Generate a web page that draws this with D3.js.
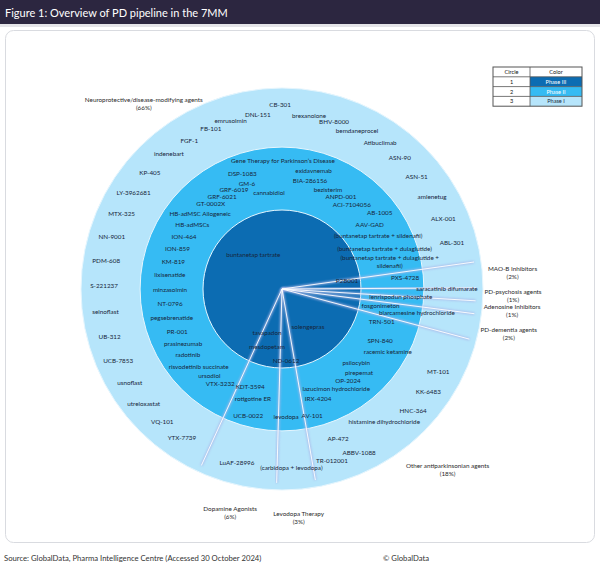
<!DOCTYPE html>
<html>
<head>
<meta charset="utf-8">
<script src="https://cdn.jsdelivr.net/npm/d3@7"></script>
<style>
  body { margin: 0; background: #fff; }
  text { font-family: Lato, "Liberation Sans", sans-serif; }
</style>
</head>
<body>
<script>
// categories (slices) and how many drugs sit in each one
const categories = ['MAO-B Inhibitors', 'PD-psychosis agents', 'Adenosine Inhibitors', 'PD-dementia agents',
  'Other antiparkinsonian agents', 'Levodopa Therapy', 'Dopamine Agonists', 'Neuroprotective/disease-modifying agents'];
const drugCounts = [2, 1, 1, 2, 17, 3, 6, 62];
const shareLabels = ['(2%)', '(1%)', '(1%)', '(2%)', '(18%)', '(3%)', '(6%)', '(66%)'];
const categoryLabelRadius = [115, 115, 115, 115, 122, 114, 114, 115]; // ring units

// phases = circles, outer radius in ring units (outer circle = 100)
const phases = ['Phase III', 'Phase II', 'Phase I'];
const phaseRadius = [39.3, 70.6, 100];

// drug labels per phase: name, angle (deg clockwise from 12 o'clock), distance (px on the picture)
const phase3Drugs = ['buntanetap tartrate', 'P2B001', 'solengepras', 'tavapadon', 'mesdopetam', 'ND-0612'];
const phase3Angles = [-39.6, 83, 145.6, 198.8, 194.5, 176.8];
const phase3Dist = [45, 65.5, 46, 46.5, 60, 72];

const phase2Drugs = ['(buntanetap tartrate + dulaglutide +\nsildenafil)', '(buntanetap tartrate + dulaglutide)',
  '(buntanetap tartrate + sildenafil)', 'AAV-GAD', 'AB-1005', 'ACI-7104056', 'ANPD-001', 'bezisterim',
  'BIA-286156', 'exidavnemab', 'Gene Therapy for Parkinson\u2019s Disease', 'cannabidiol', 'DSP-1083', 'GM-6',
  'GRF-6019', 'GRF-6021', 'GT-0002X', 'HB-adMSC Allogeneic', 'HB-adMSCs', 'ION-464', 'ION-859', 'KM-819',
  'lixisenatide', 'minzasolmin', 'NT-0796', 'pegsebrenatide', 'PR-001', 'prasinezumab', 'radotinib',
  'risvodetinib succinate', 'ursodiol', 'VTX-3232',
  'PXS-4728', 'lenrispodun phosphate', 'fosgonimeton', 'blarcamesine hydrochloride', 'TRN-501', 'SPN-840',
  'racemic ketamine', 'psilocybin', 'pirepemat', 'OP-2024', 'lazucimon hydrochloride', 'IRX-4204', 'AV-101',
  'levodopa', 'KDT-3594', 'rotigotine ER', 'UCB-0022'];
const phase2Angles = [76, 68.8, 61, 53.6, 52, 39.8, 32.7, 24.9, 14.5, 15, 0.4, -7.7, -19, -18.4, -25.9, -33, -40,
  -47.5, -54.6, -62, -69, -76, -83, -90.5, -97.6, -104.8, -112, -119, -125, -133, -140, -146.9,
  84.9, 93.8, 99.7, 100, 108.3, 117.9, 120.7, 135, 137.5, 144.3, 151.6, 161.9, 166.6, 178.2, 198, 194.8, 195];
const phase2Dist = [111, 110, 110, 109, 124, 109, 109, 109, 112, 122, 128, 97, 122, 111, 110, 110, 111, 111, 110,
  111, 112, 112, 113, 112, 113, 114, 113, 113, 115, 114, 113, 113,
  123.5, 119, 100, 137, 105, 111, 123, 105, 114, 113, 114, 116, 130, 128, 103, 114, 131];

const phase1Drugs = ['ABL-301', 'ALX-001', 'amlenetug', 'ASN-51', 'ASN-90', 'Atibuclimab', 'bemdaneprocel',
  'BHV-8000', 'brexanolone', 'CB-301', 'DNL-151', 'emrusolmin', 'FB-101', 'FGF-1', 'indenebart', 'KP-405',
  'LY-3962681', 'MTX-325', 'NN-9001', 'PDM-608', 'S-221237', 'selnoflast', 'UB-312', 'UCB-7853', 'usnoflast',
  'utreloxastat', 'VQ-101', 'YTX-7739',
  'saracatinib difumarate', 'MT-101', 'KK-6483', 'HNC-364', 'histamine dihydrochloride', 'AP-472', 'ABBV-1088',
  'TR-012001', '(carbidopa + levodopa)', 'LuAF-28996'];
const phase1Angles = [74.9, 66.5, 58.5, 50.3, 42, 33.9, 25.4, 17.3, 8.9, -0.6, -7.9, -17, -24, -32, -40, -48.7,
  -57, -65, -73, -81, -89, -97.4, -105.6, -113.7, -121.7, -129.8, -138, -146,
  90, 118, 125.2, 132.9, 142.5, 159.5, 154.8, 163.8, 177, 194.5];
const phase1Dist = [176, 176, 176, 175, 176, 176, 175, 175, 175, 184, 176, 176, 175, 175, 176, 176, 177, 177, 178,
  178, 178, 178, 179, 179, 179, 180, 179, 179,
  165, 177, 179, 179, 168, 160, 181, 179, 179, 180];

// legend table rows
const legendCircle = ['1', '2', '3'];

const width = 600;
const height = 564;
const cx = 282;
const cy = 289;
const outerR = 201;

const phaseColor = d3.scaleOrdinal().domain(phases).range(['#0c6cb2', '#36bbf3', '#b6e5fb']);
const rScale = d3.scaleLinear().domain([0, 100]).range([0, outerR]);
const aScale = d3.scaleLinear().domain([0, 360]).range([0, 2 * Math.PI]);
const polar = (deg, r) => [cx + r * Math.sin(aScale(deg)), cy - r * Math.cos(aScale(deg))];

const svg = d3.select('body').append('svg')
  .attr('width', width)
  .attr('height', height);

// title bar
svg.append('rect').attr('x', 0).attr('y', 0).attr('width', width).attr('height', 24).attr('fill', '#2c2640');
svg.append('rect').attr('x', 0).attr('y', 24).attr('width', width).attr('height', 3).attr('fill', '#e4e4e8');
svg.append('text').attr('x', 5).attr('y', 16.5).attr('fill', '#fff').attr('font-size', 11)
  .text('Figure 1: Overview of PD pipeline in the 7MM');

// panel
svg.append('rect').attr('x', 5.5).attr('y', 30.5).attr('width', 589).attr('height', 512).attr('rx', 8)
  .attr('fill', '#fff').attr('stroke', '#d9dbe0');

// glow filter for the divider lines
const defs = svg.append('defs');
const f = defs.append('filter').attr('id', 'glow').attr('x', '-20%').attr('y', '-20%').attr('width', '140%').attr('height', '140%');
f.append('feGaussianBlur').attr('stdDeviation', 1);

// circles, largest first
const g = svg.append('g');
g.selectAll('circle.phase')
  .data(phases.map((p, i) => ({ phase: p, r: phaseRadius[i] })).reverse())
  .enter()
  .append('circle')
  .attr('class', 'phase')
  .attr('cx', cx)
  .attr('cy', cy)
  .attr('r', d => rScale(d.r))
  .attr('fill', d => phaseColor(d.phase))
  .attr('stroke', '#e6f6fe')
  .attr('stroke-width', 1);

// slice boundaries from the pie
const pie = d3.pie().sort(null).value(d => d)
  .startAngle(aScale(82)).endAngle(aScale(82 + 360));
const arcs = pie(drugCounts);
const lineEnd = rScale(96.5);

g.selectAll('line.glow')
  .data(arcs)
  .enter()
  .append('line')
  .attr('x1', cx).attr('y1', cy)
  .attr('x2', d => cx + lineEnd * Math.sin(d.startAngle))
  .attr('y2', d => cy - lineEnd * Math.cos(d.startAngle))
  .attr('stroke', '#aab6e8')
  .attr('stroke-width', 2.6)
  .attr('opacity', 0.8)
  .attr('filter', 'url(#glow)');

g.selectAll('line.core')
  .data(arcs)
  .enter()
  .append('line')
  .attr('x1', cx).attr('y1', cy)
  .attr('x2', d => cx + lineEnd * Math.sin(d.startAngle))
  .attr('y2', d => cy - lineEnd * Math.cos(d.startAngle))
  .attr('stroke', '#ffffff')
  .attr('stroke-width', 0.9);

// drug labels
const drugRows = [
  [phase3Drugs, phase3Angles, phase3Dist],
  [phase2Drugs, phase2Angles, phase2Dist],
  [phase1Drugs, phase1Angles, phase1Dist]
].flatMap(([names, angles, dist]) => names.map((n, i) => ({ name: n, angle: angles[i], dist: dist[i] })));

const labels = g.selectAll('text.drug')
  .data(drugRows)
  .enter()
  .append('text')
  .attr('class', 'drug')
  .attr('font-size', 6.3)
  .attr('fill', '#17263a')
  .attr('text-anchor', 'middle')
  .attr('transform', d => `translate(${polar(d.angle, d.dist)})`);

labels.each(function (d) {
  const parts = d.name.split('\n');
  d3.select(this).selectAll('tspan')
    .data(parts)
    .enter()
    .append('tspan')
    .attr('x', 0)
    .attr('dy', (p, i) => i === 0 ? `${2.2 - (parts.length - 1) * 4}` : 8)
    .text(p => p);
});

// category labels at slice centroids
const catRows = arcs.map((a, i) => ({
  name: categories[i],
  share: shareLabels[i],
  angle: (a.startAngle + a.endAngle) / 2,
  r: rScale(categoryLabelRadius[i])
}));

const cats = svg.selectAll('text.cat')
  .data(catRows)
  .enter()
  .append('text')
  .attr('class', 'cat')
  .attr('font-size', 6.3)
  .attr('fill', '#2a2a2a')
  .attr('text-anchor', 'middle')
  .attr('transform', d => `translate(${cx + d.r * Math.sin(d.angle)},${cy - d.r * Math.cos(d.angle)})`);
cats.append('tspan').attr('x', 0).attr('dy', -1.5).text(d => d.name);
cats.append('tspan').attr('x', 0).attr('dy', 8).text(d => d.share);

// legend table
const lx = 493, ly = 67, c1 = 37, c2 = 52, rh = 9.8;
const legend = svg.append('g');
legend.append('rect').attr('x', lx).attr('y', ly).attr('width', c1 + c2).attr('height', rh).attr('fill', '#fff');
legend.selectAll('rect.sw')
  .data(phases)
  .enter()
  .append('rect')
  .attr('x', lx + c1).attr('y', (d, i) => ly + rh * (i + 1))
  .attr('width', c2).attr('height', rh)
  .attr('fill', d => phaseColor(d));
legend.append('rect').attr('x', lx).attr('y', ly).attr('width', c1 + c2).attr('height', rh * 4)
  .attr('fill', 'none').attr('stroke', '#555').attr('stroke-width', 1);
[1, 2, 3].forEach(i => legend.append('line')
  .attr('x1', lx).attr('x2', lx + c1 + c2).attr('y1', ly + rh * i).attr('y2', ly + rh * i)
  .attr('stroke', '#555').attr('stroke-width', 0.8));
legend.append('line').attr('x1', lx + c1).attr('x2', lx + c1).attr('y1', ly).attr('y2', ly + rh * 4)
  .attr('stroke', '#555').attr('stroke-width', 0.8);
legend.append('text').attr('x', lx + c1 / 2).attr('y', ly + 7).attr('font-size', 5.6).attr('text-anchor', 'middle')
  .attr('fill', '#111').text('Circle');
legend.append('text').attr('x', lx + c1 + c2 / 2).attr('y', ly + 7).attr('font-size', 5.6).attr('text-anchor', 'middle')
  .attr('fill', '#111').text('Color');
legend.selectAll('text.num')
  .data(legendCircle)
  .enter()
  .append('text')
  .attr('x', lx + c1 / 2).attr('y', (d, i) => ly + rh * (i + 1) + 7)
  .attr('font-size', 5.6).attr('text-anchor', 'middle').attr('fill', '#111')
  .text(d => d);
legend.selectAll('text.ph')
  .data(phases)
  .enter()
  .append('text')
  .attr('x', lx + c1 + c2 / 2).attr('y', (d, i) => ly + rh * (i + 1) + 7)
  .attr('font-size', 5.6).attr('text-anchor', 'middle')
  .attr('fill', (d, i) => i < 2 ? '#fff' : '#1c2a3a')
  .text(d => d);

// footer
svg.append('text').attr('x', 4).attr('y', 561).attr('font-size', 7.7).attr('fill', '#333')
  .text('Source: GlobalData, Pharma Intelligence Centre (Accessed 30 October 2024)');
svg.append('text').attr('x', 383).attr('y', 561).attr('font-size', 7.7).attr('fill', '#333')
  .text('\u00a9 GlobalData');
</script>
</body>
</html>
